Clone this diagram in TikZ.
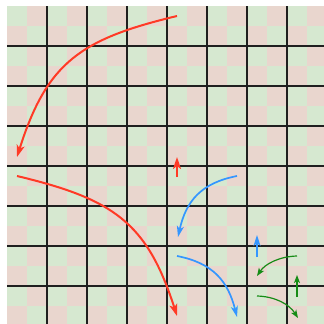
\documentclass[tikz,border=0pt]{standalone}
\usetikzlibrary{arrows.meta}
\definecolor{cellgreen}{RGB}{214,232,208}
\definecolor{cellpink}{RGB}{233,214,206}
\definecolor{arrred}{RGB}{255,58,38}
\definecolor{arrblue}{RGB}{52,150,255}
\definecolor{arrgreen}{RGB}{22,140,22}
\tikzset{
  gridline/.style={line width=1.3pt, black!88},
  redarrow/.style={draw=arrred, line width=2pt, -{Stealth[length=12pt,width=8pt,inset=3pt]}},
  bluearrow/.style={draw=arrblue, line width=1.7pt, -{Stealth[length=11pt,width=7pt,inset=3pt]}},
  greenarrow/.style={draw=arrgreen, line width=1.2pt, -{Stealth[length=8pt,width=6pt,inset=2pt]}}
}
\begin{document}
\begin{tikzpicture}[x=1pt,y=-1pt]
\useasboundingbox (0,0) rectangle (324,324);
\begin{scope}
\clip (0,0) rectangle (324,324);
\fill[cellpink] (7,6) rectangle (327,326);
\foreach \i in {0,...,15}{
  \foreach \j in {0,...,15}{
    \pgfmathtruncatemacro\cellpar{mod(\i+\j,2)}
    \ifnum\cellpar=0
      \fill[cellgreen] ({7+20*\i},{6+20*\j}) rectangle ++(20,20);
    \fi
  }
}
\foreach \k in {0,...,6}{
  \draw[gridline] ({47+40*\k},6) -- ({47+40*\k},324);
  \draw[gridline] (7,{46+40*\k}) -- (324,{46+40*\k});
}
\end{scope}
% endpoints
\coordinate (r1s) at (177,16);
\coordinate (r1e) at (17,157);
\coordinate (r2s) at (17,176);
\coordinate (r2e) at (177,316);
\coordinate (r3s) at (177,177);
\coordinate (r3e) at (177,157);
\coordinate (b1s) at (237,176);
\coordinate (b1e) at (178,237);
\coordinate (b2s) at (177,256);
\coordinate (b2e) at (237,317);
\coordinate (b3s) at (257,257);
\coordinate (b3e) at (257,235);
\coordinate (g1s) at (297,256);
\coordinate (g1e) at (257,276);
\coordinate (g2s) at (257,296);
\coordinate (g2e) at (298,318);
\coordinate (g3s) at (297,297);
\coordinate (g3e) at (297,275);
% arrows
\draw[redarrow] (r1s) .. controls (81,39) and (47,62) .. (r1e);
\draw[redarrow] (r2s) .. controls (113,199) and (147,222) .. (r2e);
\draw[redarrow] (r3s) -- (r3e);
\draw[bluearrow] (b1s) .. controls (201,183) and (186,201) .. (b1e);
\draw[bluearrow] (b2s) .. controls (213,263) and (228,281) .. (b2e);
\draw[bluearrow] (b3s) -- (b3e);
\draw[greenarrow] (g1s) .. controls (279,256.5) and (265,264) .. (g1e);
\draw[greenarrow] (g2s) .. controls (275,296.5) and (289,304) .. (g2e);
\draw[greenarrow] (g3s) -- (g3e);
\end{tikzpicture}
\end{document}
